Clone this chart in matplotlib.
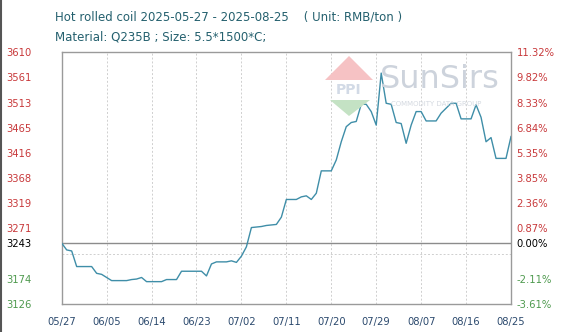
import matplotlib
matplotlib.use("Agg")
import matplotlib.pyplot as plt
from matplotlib.patches import Polygon
from matplotlib.lines import Line2D
import pandas as pd
import numpy as np

# ---- data ----
dates = ["2025-05-27", "2025-05-28", "2025-05-29", "2025-05-30", "2025-06-02", "2025-06-03",
         "2025-06-04", "2025-06-06", "2025-06-09", "2025-06-10", "2025-06-11", "2025-06-12",
         "2025-06-13", "2025-06-16", "2025-06-17", "2025-06-19", "2025-06-20", "2025-06-24",
         "2025-06-25", "2025-06-26", "2025-06-27", "2025-06-29", "2025-06-30", "2025-07-01",
         "2025-07-02", "2025-07-03", "2025-07-04", "2025-07-06", "2025-07-07", "2025-07-09",
         "2025-07-10", "2025-07-11", "2025-07-13", "2025-07-14", "2025-07-15", "2025-07-16",
         "2025-07-17", "2025-07-18", "2025-07-20", "2025-07-21", "2025-07-22", "2025-07-23",
         "2025-07-24", "2025-07-25", "2025-07-26", "2025-07-27", "2025-07-28", "2025-07-29",
         "2025-07-30", "2025-07-31", "2025-08-01", "2025-08-02", "2025-08-03", "2025-08-04",
         "2025-08-05", "2025-08-06", "2025-08-07", "2025-08-08", "2025-08-10", "2025-08-11",
         "2025-08-13", "2025-08-14", "2025-08-15", "2025-08-17", "2025-08-18", "2025-08-19",
         "2025-08-20", "2025-08-21", "2025-08-22", "2025-08-24", "2025-08-25"]
prices = [3243, 3230, 3228, 3198, 3198, 3185,
          3183, 3171, 3171, 3173, 3174, 3177,
          3169, 3169, 3173, 3173, 3189, 3189,
          3180, 3203, 3207, 3207, 3209, 3206,
          3218, 3236, 3273, 3275, 3277, 3279,
          3293, 3327, 3327, 3332, 3334, 3327,
          3339, 3382, 3382, 3403, 3438, 3467,
          3475, 3477, 3510, 3510, 3496, 3470,
          3570, 3512, 3510, 3475, 3473, 3435,
          3470, 3496, 3496, 3478, 3478, 3493,
          3512, 3512, 3482, 3482, 3509, 3485,
          3438, 3446, 3406, 3406, 3448]
base_price = 3243
y_min, y_max = 3126, 3610
left_tick_labels = ["3126", "3174", "3271", "3319", "3368", "3416", "3465", "3513", "3561", "3610"]
right_tick_labels = ["-3.61%", "-2.11%", "0.87%", "2.36%", "3.85%", "5.35%", "6.84%", "8.33%", "9.82%", "11.32%"]
base_left_label = "3243"
base_right_label = "0.00%"
x_tick_labels = ["05/27", "06/05", "06/14", "06/23", "07/02", "07/11",
                 "07/20", "07/29", "08/07", "08/16", "08/25"]
title_line1 = "Hot rolled coil 2025-05-27 - 2025-08-25    ( Unit: RMB/ton )"
title_line2 = "Material: Q235B ; Size: 5.5*1500*C;"

# ---- figure ----
W, H = 577, 332
fig = plt.figure(figsize=(W / 100, H / 100), dpi=100)
fig.patch.set_facecolor("white")
L, R, T, B = 61.7, 511.0, 52.3, 304.0
ax = fig.add_axes([L / W, 1 - B / H, (R - L) / W, (B - T) / H])

x = pd.to_datetime(dates)
start = pd.Timestamp("2025-05-27")
end = pd.Timestamp("2025-08-25")
ax.set_xlim(start, end)
ax.set_ylim(y_min, y_max)

ax.plot(x, prices, color="#3f8ea8", lw=1.0, zorder=3)
ax.axhline(base_price, color="#8c8c8c", lw=1.0, zorder=2)

# grid
tick_dates = [start + pd.Timedelta(days=9 * i) for i in range(len(x_tick_labels))]
ax.set_xticks(tick_dates)
ax.set_xticklabels(x_tick_labels)
grid_vals = np.linspace(y_min, y_max, 11)
ax.set_yticks(grid_vals, minor=True)
ax.grid(True, which="major", axis="x", color="#cfcfcf", linestyle=(0, (2, 2)), lw=0.7)
ax.grid(True, which="minor", axis="y", color="#cfcfcf", linestyle=(0, (2, 2)), lw=0.7)
ax.set_axisbelow(True)

for s in ax.spines.values():
    s.set_color("#9a9a9a")
    s.set_linewidth(1.0)

red = "#c8393b"
green = "#4f9a4f"
xcol = "#2c4a6e"
ax.tick_params(axis="x", length=0, pad=9, labelsize=7.2, labelcolor=xcol)
ax.tick_params(axis="y", which="both", length=0, pad=22, labelsize=7.2)

# left labels (grid values without the one hidden near base, plus base)
label_vals = [v for v in grid_vals if abs(v - 3222.8) > 1]
ticks = label_vals + [base_price]
ax.set_yticks(ticks)
ax.set_yticklabels(left_tick_labels + [base_left_label])
for t, v in zip(ax.get_yticklabels(), ticks):
    t.set_color("black" if v == base_price else (red if v > base_price else green))

# right axis
ax2 = ax.twinx()
ax2.set_ylim(y_min, y_max)
ax2.set_yticks(ticks)
ax2.set_yticklabels(right_tick_labels + [base_right_label])
ax2.tick_params(axis="y", length=0, pad=4, labelsize=7.2)
for t, v in zip(ax2.get_yticklabels(), ticks):
    t.set_color("black" if v == base_price else (red if v > base_price else green))
for s in ax2.spines.values():
    s.set_visible(False)

# titles
tc = "#24606e"
fig.text(55 / W, 1 - 17 / H, title_line1, fontsize=8.5, color=tc, va="center", ha="left")
fig.text(55 / W, 1 - 37.5 / H, title_line2, fontsize=8.5, color=tc, va="center", ha="left")

# watermark
def fp(px, py):
    return (px / W, 1 - py / H)

fig.patches.append(Polygon([fp(349, 56), fp(325, 80), fp(373, 80)], closed=True,
                           transform=fig.transFigure, facecolor="#f6c2c4", edgecolor="none", zorder=1))
fig.patches.append(Polygon([fp(330, 100), fp(370, 100), fp(349, 116)], closed=True,
                           transform=fig.transFigure, facecolor="#c4e2c4", edgecolor="none", zorder=1))
fig.text(349 / W, 1 - 90 / H, "PPI", fontsize=10, color="#d2dae6", ha="center", va="center",
         fontweight="bold", zorder=1)
fig.text(440 / W, 1 - 80 / H, "SunSirs", fontsize=23, color="#cdd3dc", ha="center", va="center", zorder=1)
fig.text(436 / W, 1 - 104 / H, "COMMODITY DATA GROUP", fontsize=5, color="#d4d9e0", ha="center",
         va="center", zorder=1)

# left border line
fig.add_artist(Line2D([1 / W, 1 / W], [0, 1], color="#555555", lw=1.5, transform=fig.transFigure))

fig.savefig("out.png", dpi=100)
